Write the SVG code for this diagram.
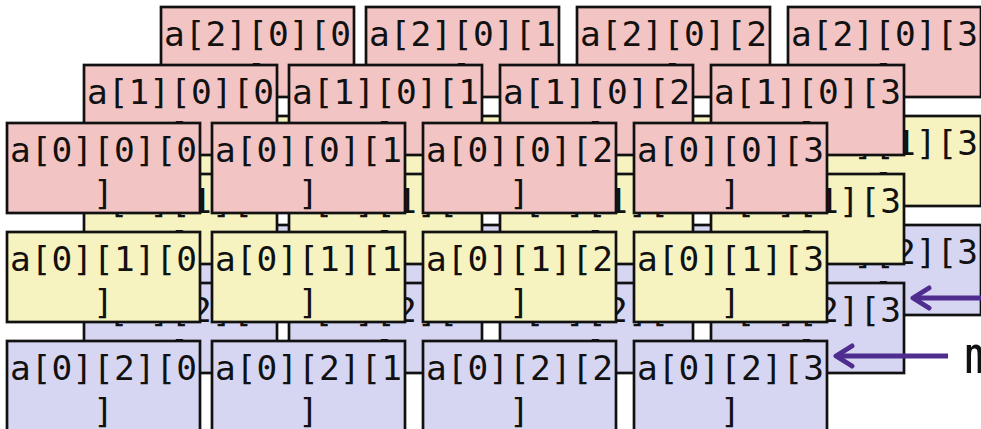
<svg xmlns="http://www.w3.org/2000/svg" width="981" height="429" viewBox="0 0 981 429">
<style>
rect{stroke:#111;stroke-width:2.7}
.r0{fill:#F2C4C4}.r1{fill:#F6F3C1}.r2{fill:#D6D6F3}
text{font-family:"DejaVu Sans Mono","Liberation Mono",monospace;font-size:34.5px;fill:#111;text-anchor:middle}
.lbl{text-anchor:start;font-size:52px}
.arr{stroke:#4F2D8F;stroke-width:5;fill:none;marker-end:url(#ah)}
</style>
<defs>
<marker id="ah" markerUnits="userSpaceOnUse" markerWidth="24" markerHeight="28" refX="21" refY="14" orient="auto" viewBox="0 0 24 28">
<path d="M5,4 L21,14 L5,24" fill="none" stroke="#4F2D8F" stroke-width="5" stroke-linecap="round" stroke-linejoin="round"/>
</marker>
</defs>
<g id="layer2">
<g id="a200"><rect class="r0" x="161" y="7" width="193" height="90"/><text x="257.5" y="46">a[2][0][0</text><text x="257.5" y="89">]</text></g>
<g id="a201"><rect class="r0" x="366" y="7" width="193" height="90"/><text x="462.5" y="46">a[2][0][1</text><text x="462.5" y="89">]</text></g>
<g id="a202"><rect class="r0" x="577" y="7" width="193" height="90"/><text x="673.5" y="46">a[2][0][2</text><text x="673.5" y="89">]</text></g>
<g id="a203"><rect class="r0" x="788" y="7" width="193" height="90"/><text x="884.5" y="46">a[2][0][3</text><text x="884.5" y="89">]</text></g>
<g id="a210"><rect class="r1" x="161" y="116" width="193" height="90"/><text x="257.5" y="155">a[2][1][0</text><text x="257.5" y="198">]</text></g>
<g id="a211"><rect class="r1" x="366" y="116" width="193" height="90"/><text x="462.5" y="155">a[2][1][1</text><text x="462.5" y="198">]</text></g>
<g id="a212"><rect class="r1" x="577" y="116" width="193" height="90"/><text x="673.5" y="155">a[2][1][2</text><text x="673.5" y="198">]</text></g>
<g id="a213"><rect class="r1" x="788" y="116" width="193" height="90"/><text x="884.5" y="155">a[2][1][3</text><text x="884.5" y="198">]</text></g>
<g id="a220"><rect class="r2" x="161" y="225" width="193" height="90"/><text x="257.5" y="264">a[2][2][0</text><text x="257.5" y="307">]</text></g>
<g id="a221"><rect class="r2" x="366" y="225" width="193" height="90"/><text x="462.5" y="264">a[2][2][1</text><text x="462.5" y="307">]</text></g>
<g id="a222"><rect class="r2" x="577" y="225" width="193" height="90"/><text x="673.5" y="264">a[2][2][2</text><text x="673.5" y="307">]</text></g>
<g id="a223"><rect class="r2" x="788" y="225" width="193" height="90"/><text x="884.5" y="264">a[2][2][3</text><text x="884.5" y="307">]</text></g>
</g>
<g id="layer1">
<g id="a100"><rect class="r0" x="84" y="65" width="193" height="90"/><text x="180.5" y="104">a[1][0][0</text><text x="180.5" y="147">]</text></g>
<g id="a101"><rect class="r0" x="289" y="65" width="193" height="90"/><text x="385.5" y="104">a[1][0][1</text><text x="385.5" y="147">]</text></g>
<g id="a102"><rect class="r0" x="500" y="65" width="193" height="90"/><text x="596.5" y="104">a[1][0][2</text><text x="596.5" y="147">]</text></g>
<g id="a103"><rect class="r0" x="711" y="65" width="193" height="90"/><text x="807.5" y="104">a[1][0][3</text><text x="807.5" y="147">]</text></g>
<g id="a110"><rect class="r1" x="84" y="174" width="193" height="90"/><text x="180.5" y="213">a[1][1][0</text><text x="180.5" y="256">]</text></g>
<g id="a111"><rect class="r1" x="289" y="174" width="193" height="90"/><text x="385.5" y="213">a[1][1][1</text><text x="385.5" y="256">]</text></g>
<g id="a112"><rect class="r1" x="500" y="174" width="193" height="90"/><text x="596.5" y="213">a[1][1][2</text><text x="596.5" y="256">]</text></g>
<g id="a113"><rect class="r1" x="711" y="174" width="193" height="90"/><text x="807.5" y="213">a[1][1][3</text><text x="807.5" y="256">]</text></g>
<g id="a120"><rect class="r2" x="84" y="283" width="193" height="90"/><text x="180.5" y="322">a[1][2][0</text><text x="180.5" y="365">]</text></g>
<g id="a121"><rect class="r2" x="289" y="283" width="193" height="90"/><text x="385.5" y="322">a[1][2][1</text><text x="385.5" y="365">]</text></g>
<g id="a122"><rect class="r2" x="500" y="283" width="193" height="90"/><text x="596.5" y="322">a[1][2][2</text><text x="596.5" y="365">]</text></g>
<g id="a123"><rect class="r2" x="711" y="283" width="193" height="90"/><text x="807.5" y="322">a[1][2][3</text><text x="807.5" y="365">]</text></g>
</g>
<g id="layer0">
<g id="a000"><rect class="r0" x="7" y="123" width="193" height="90"/><text x="103.5" y="162">a[0][0][0</text><text x="103.5" y="205">]</text></g>
<g id="a001"><rect class="r0" x="212" y="123" width="193" height="90"/><text x="308.5" y="162">a[0][0][1</text><text x="308.5" y="205">]</text></g>
<g id="a002"><rect class="r0" x="423" y="123" width="193" height="90"/><text x="519.5" y="162">a[0][0][2</text><text x="519.5" y="205">]</text></g>
<g id="a003"><rect class="r0" x="634" y="123" width="193" height="90"/><text x="730.5" y="162">a[0][0][3</text><text x="730.5" y="205">]</text></g>
<g id="a010"><rect class="r1" x="7" y="232" width="193" height="90"/><text x="103.5" y="271">a[0][1][0</text><text x="103.5" y="314">]</text></g>
<g id="a011"><rect class="r1" x="212" y="232" width="193" height="90"/><text x="308.5" y="271">a[0][1][1</text><text x="308.5" y="314">]</text></g>
<g id="a012"><rect class="r1" x="423" y="232" width="193" height="90"/><text x="519.5" y="271">a[0][1][2</text><text x="519.5" y="314">]</text></g>
<g id="a013"><rect class="r1" x="634" y="232" width="193" height="90"/><text x="730.5" y="271">a[0][1][3</text><text x="730.5" y="314">]</text></g>
<g id="a020"><rect class="r2" x="7" y="341" width="193" height="90"/><text x="103.5" y="380">a[0][2][0</text><text x="103.5" y="423">]</text></g>
<g id="a021"><rect class="r2" x="212" y="341" width="193" height="90"/><text x="308.5" y="380">a[0][2][1</text><text x="308.5" y="423">]</text></g>
<g id="a022"><rect class="r2" x="423" y="341" width="193" height="90"/><text x="519.5" y="380">a[0][2][2</text><text x="519.5" y="423">]</text></g>
<g id="a023"><rect class="r2" x="634" y="341" width="193" height="90"/><text x="730.5" y="380">a[0][2][3</text><text x="730.5" y="423">]</text></g>
</g>
<g id="connectors">
<line class="arr" x1="990" y1="298" x2="913" y2="298"/>
<line class="arr" x1="948" y1="356" x2="836" y2="356"/>
</g>
<g id="label"><text class="lbl" x="964" y="373">m</text></g>
</svg>
